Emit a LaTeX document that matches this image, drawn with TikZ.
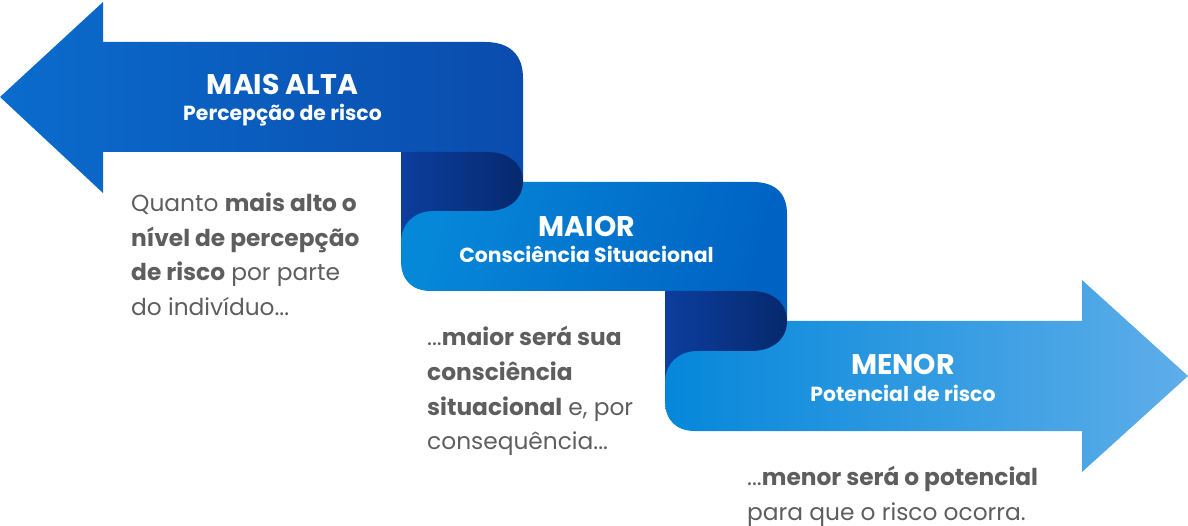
\documentclass[tikz,border=0pt]{standalone}
\usepackage{fontspec}
\setmainfont{Poppins}
\usepackage{tikz}
\definecolor{bandAl}{HTML}{0A6CCD}
\definecolor{bandAr}{HTML}{0A4CAD}
\definecolor{bandBl}{HTML}{0688D9}
\definecolor{bandBr}{HTML}{0062C3}
\definecolor{bandCl}{HTML}{0587DA}
\definecolor{bandCr}{HTML}{5EAEE9}
\definecolor{foldl}{HTML}{0C3E9F}
\definecolor{foldr}{HTML}{06296D}
\definecolor{bodygrey}{HTML}{5E5E5E}
\tikzset{
  bandtitle/.style={text=white, inner sep=0pt, anchor=base, font=\bfseries\fontsize{28.4}{30}\selectfont},
  bandsub/.style={text=white, inner sep=0pt, anchor=base, font=\bfseries\fontsize{20.4}{22}\selectfont},
  body/.style={text=bodygrey, inner sep=0pt, anchor=base west, font=\fontsize{23.3}{35}\selectfont},
}

\begin{document}
\begin{tikzpicture}[x=1pt,y=-1pt]
    \useasboundingbox (0,0) rectangle (1188,526);

    % top band, arrow to the left
    \shade[left color=bandAl, right color=bandAr] (0,97) -- (103,2) -- (103,42) -- (485,42)
        .. controls (510,42) and (523,55) .. (523,78) -- (523,190) -- (401,190) -- (401,152)
        -- (103,152) -- (103,193) -- cycle;
    % middle band
    \shade[left color=bandBl, right color=bandBr, shading angle=75] (401,182) -- (753,182)
        .. controls (776,182) and (787,194) .. (787,214) -- (787,330) -- (665,330) -- (665,291)
        -- (431,291) .. controls (412,291) and (401,280) .. (401,261) -- cycle;
    % first fold
    \shade[left color=foldl, right color=foldr] (401,152) -- (487,152)
        .. controls (510,152) and (523,165) .. (523,181.5)
        .. controls (523,198) and (510,211) .. (487,211) -- (433,211)
        .. controls (414,211) and (401,224) .. (401,242) -- cycle;
    % bottom band, arrow to the right
    \shade[left color=bandCl, right color=bandCr] (665,321) -- (1082,321) -- (1082,280)
        -- (1188,376) -- (1082,472) -- (1082,431) -- (695,431)
        .. controls (676,431) and (665,420) .. (665,401) -- cycle;
    % second fold
    \shade[left color=foldl, right color=foldr] (665,291) -- (751,291)
        .. controls (774,291) and (787,304) .. (787,321)
        .. controls (787,338) and (774,351) .. (751,351) -- (697,351)
        .. controls (678,351) and (665,364) .. (665,382) -- cycle;

    \node[bandtitle] (TitleA) at (282.5,95) {MAIS ALTA};
    \node[bandsub] (SubA) at (282.5,121) {Percepção de risco};
    \node[bandtitle] (TitleB) at (587,237) {MAIOR};
    \node[bandsub] (SubB) at (586.5,263) {Consciência Situacional};
    \node[bandtitle] (TitleC) at (903,374) {MENOR};
    \node[bandsub] (SubC) at (903,401) {Potencial de risco};

    \node[body] (BodyA1) at (131,212) {Quanto \textbf{mais alto o}};
    \node[body] (BodyA2) at (131,247) {\textbf{nível de percepção}};
    \node[body] (BodyA3) at (131,281) {\textbf{de risco} por parte};
    \node[body] (BodyA4) at (131,315.5) {do indivíduo...};

    \node[body] (BodyB1) at (427,345) {...\textbf{maior será sua}};
    \node[body] (BodyB2) at (427,380) {\textbf{consciência}};
    \node[body] (BodyB3) at (427,415) {\textbf{situacional} e, por};
    \node[body] (BodyB4) at (427,449) {consequência...};

    \node[body] (BodyC1) at (747,485) {...\textbf{menor será o potencial}};
    \node[body] (BodyC2) at (747,520) {para que o risco ocorra.};
\end{tikzpicture}
\end{document}
